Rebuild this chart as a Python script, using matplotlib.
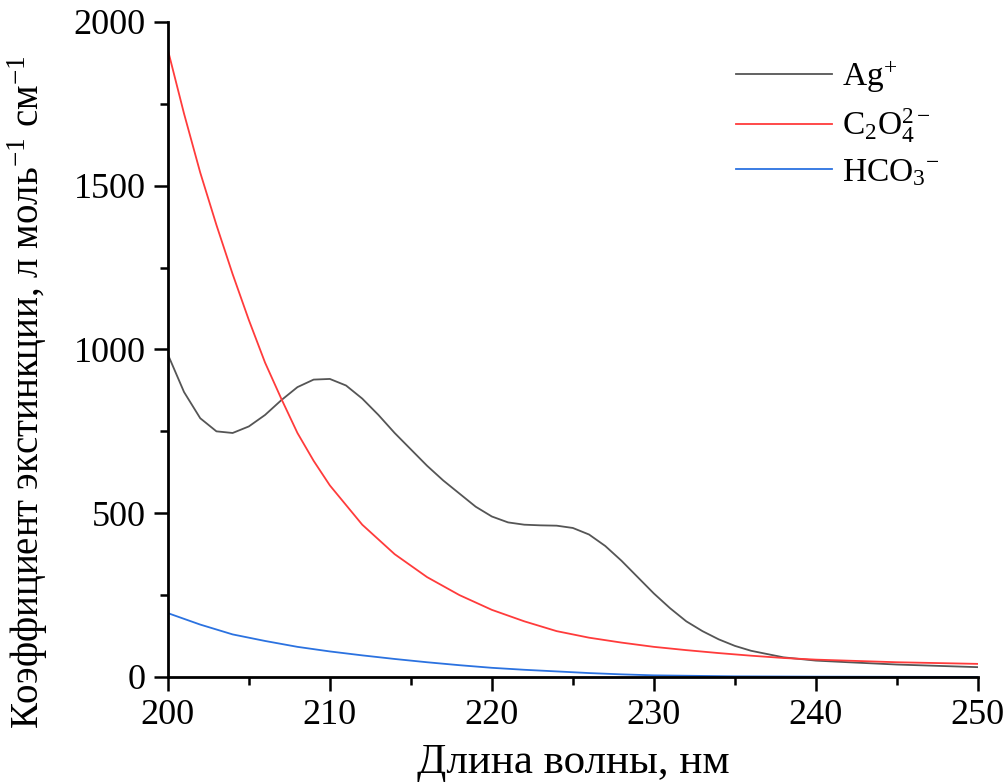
import matplotlib
matplotlib.use('Agg')
import matplotlib.pyplot as plt
from matplotlib.ticker import MultipleLocator
import numpy as np

plt.rcParams['font.family'] = ['Liberation Serif', 'DejaVu Serif']
plt.rcParams['mathtext.fontset'] = 'custom'
plt.rcParams['mathtext.rm'] = 'Liberation Serif'
plt.rcParams['mathtext.it'] = 'Liberation Serif:italic'

# Ag+
wl_ag = [200, 201, 202, 203, 204, 205, 206, 207, 208, 209, 210, 211, 212, 213,
         214, 215, 216, 217, 218, 219, 220, 221, 222, 223, 224, 225, 226, 227,
         228, 229, 230, 231, 232, 233, 234, 235, 236, 237, 238, 239, 240, 242,
         245, 250]
eps_ag = [985, 870, 790, 750, 745, 765, 800, 845, 885, 908, 910, 890, 850, 800,
          745, 695, 645, 600, 560, 520, 490, 472, 465, 463, 462, 455, 435, 400,
          355, 305, 255, 210, 170, 140, 115, 95, 80, 70, 60, 55, 50, 45,
          38, 30]

# oxalate
wl_ox = [200, 201, 202, 203, 204, 205, 206, 207, 208, 209, 210, 212, 214, 216,
         218, 220, 222, 224, 226, 228, 230, 232, 234, 236, 238, 240, 245, 250]
eps_ox = [1915, 1720, 1540, 1380, 1230, 1090, 960, 850, 745, 660, 585, 465, 375, 305,
          250, 205, 170, 140, 120, 105, 92, 82, 73, 65, 58, 53, 45, 40]

# bicarbonate
wl_hc = [200, 202, 204, 206, 208, 210, 212, 214, 216, 218, 220, 222, 224, 226,
         228, 230, 235, 240, 250]
eps_hc = [195, 160, 130, 110, 92, 78, 66, 55, 45, 36, 28, 22, 17, 12,
          8, 5, 2, 1, 0]

fig = plt.figure(figsize=(10.05, 7.84), dpi=100)
ax = fig.add_axes([0.167, 0.1365, 0.806, 0.8355])

ax.plot(wl_ag, eps_ag, color='#555555', lw=1.3, label=r'Ag$^{+}$')
ax.plot(wl_ox, eps_ox, color='#ff3b3b', lw=1.3, label=r'C$_{2}$O$_{4}^{2-}$')
ax.plot(wl_hc, eps_hc, color='#2b72e0', lw=1.3, label=r'HCO$_{3}$$^{-}$')

ax.set_xlim(200, 250)
ax.set_ylim(0, 2000)
ax.xaxis.set_major_locator(MultipleLocator(10))
ax.xaxis.set_minor_locator(MultipleLocator(5))
ax.yaxis.set_major_locator(MultipleLocator(500))
ax.yaxis.set_minor_locator(MultipleLocator(250))

for s in ['top', 'right']:
    ax.spines[s].set_visible(False)
for s in ['left', 'bottom']:
    ax.spines[s].set_linewidth(2)

ax.tick_params(which='major', direction='out', length=10, width=1.8, labelsize=26, pad=6)
ax.tick_params(which='minor', direction='out', length=6, width=1.8)

ax.set_xlabel('Длина волны, нм', fontsize=31, labelpad=8)
ax.set_ylabel('Коэффициент экстинкции, л моль$^{-1}$ см$^{-1}$', fontsize=28)
# label centred on the figure height, as in the original
ax.yaxis.set_label_coords(-0.146, 0.435)

ax.legend(loc='upper right', bbox_to_anchor=(0.99, 0.99), frameon=False, fontsize=24,
          handlelength=2.9, handletextpad=0.3, labelspacing=0.35)

fig.savefig('out.png', dpi=100)
